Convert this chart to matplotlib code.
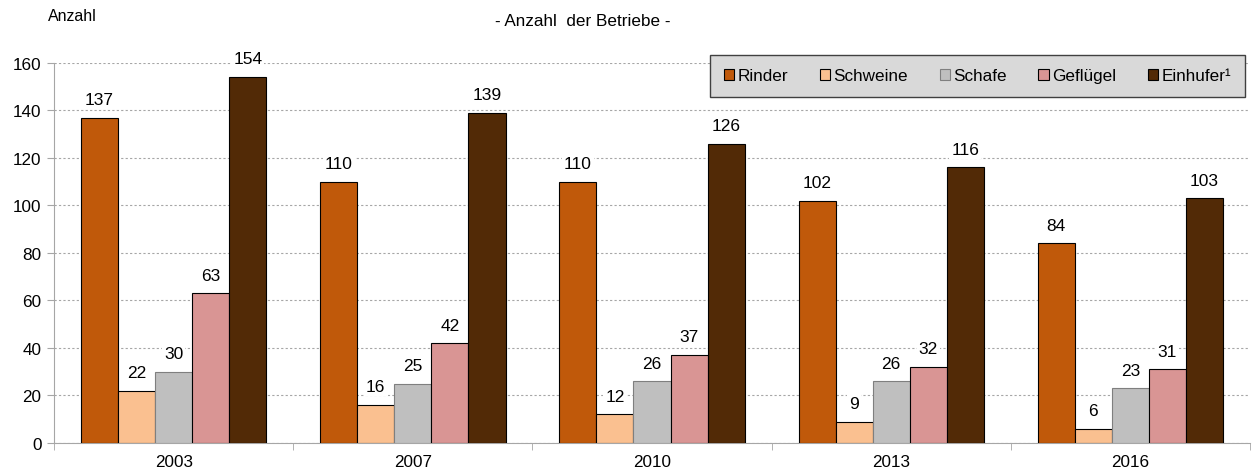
import numpy as np
import matplotlib.pyplot as plt

plt.rcParams['font.family'] = ['Liberation Sans', 'DejaVu Sans']

jahre = ['2003', '2007', '2010', '2013', '2016']
rinder = [137, 110, 110, 102, 84]
schweine = [22, 16, 12, 9, 6]
schafe = [30, 25, 26, 26, 23]
gefluegel = [63, 42, 37, 32, 31]
einhufer = [154, 139, 126, 116, 103]

serien = [
    ('Rinder', rinder, '#C0590A', 'black'),
    ('Schweine', schweine, '#FAC090', 'black'),
    ('Schafe', schafe, '#BFBFBF', '#7F7F7F'),
    ('Geflügel', gefluegel, '#D99594', 'black'),
    ('Einhufer¹', einhufer, '#522A06', 'black'),
]

fig = plt.figure(figsize=(12.57, 4.77), dpi=100)
ax = fig.add_axes([0.043, 0.0692, 0.9514, 0.7968])

x = np.arange(len(jahre))
breite = 0.155
for i, (name, werte, farbe, rand) in enumerate(serien):
    pos = x + (i - 2) * breite
    bars = ax.bar(pos, werte, breite, color=farbe, edgecolor=rand, linewidth=0.8,
                  label=name, zorder=3)
    for b, v in zip(bars, werte):
        ax.text(b.get_x() + b.get_width() / 2, v + 4.5, str(v), ha='center', va='bottom',
                fontsize=12.5, zorder=4,
                bbox=dict(facecolor='white', edgecolor='none', pad=1.5))

ax.set_xlim(-0.5, len(jahre) - 0.5)
ax.set_ylim(0, 160)
ax.set_yticks(range(0, 161, 20))
ax.set_xticks(x)
ax.set_xticklabels(jahre)
ax.set_xticks(np.arange(-0.5, len(jahre), 1.0), minor=True)
ax.tick_params(axis='x', which='major', length=0, labelsize=12.3, pad=8)
ax.tick_params(axis='x', which='minor', length=5, color='#A6A6A6', direction='out')
ax.tick_params(axis='y', labelsize=12.3, length=5, color='#A6A6A6', pad=4)

ax.yaxis.grid(True, linestyle=(0, (2, 2)), color='#A6A6A6', linewidth=0.8, zorder=0)
for s in ['top', 'right']:
    ax.spines[s].set_visible(False)
ax.spines['left'].set_color('#A6A6A6')
ax.spines['bottom'].set_color('#A6A6A6')

leg = ax.legend(loc='upper right', bbox_to_anchor=(1.0, 1.035), ncol=5, fontsize=12.3,
                frameon=True, fancybox=False, handlelength=0.6, handleheight=0.6,
                handletextpad=0.2, columnspacing=1.85, borderpad=0.8, borderaxespad=0.3)
leg.get_frame().set_facecolor('#D9D9D9')
leg.get_frame().set_edgecolor('#404040')
leg.get_frame().set_alpha(1)
leg.set_zorder(5)

fig.text(0.038, 0.965, 'Anzahl', fontsize=11.5, ha='left', va='center')
fig.text(0.464, 0.955, '- Anzahl  der Betriebe -', fontsize=12.3, ha='center', va='center')

fig.savefig('out.png', dpi=100)
